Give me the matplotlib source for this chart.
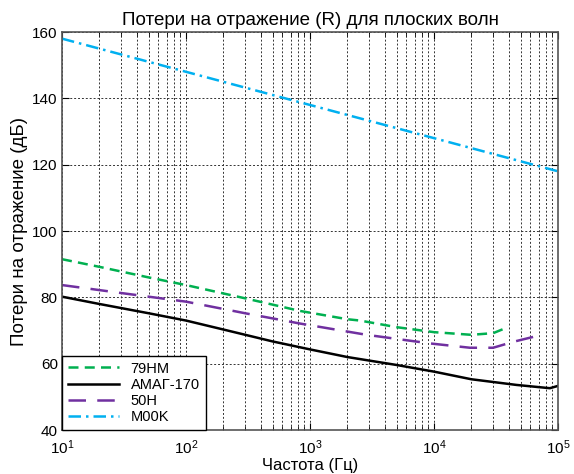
import numpy as np
import matplotlib.pyplot as plt
from matplotlib.ticker import LogLocator, NullFormatter

plt.rcParams['font.family'] = ['Liberation Sans', 'DejaVu Sans']

# --- data ---
f_79hm = [10, 20, 50, 100, 300, 830, 2000, 2530, 5000, 10000, 20000, 30000, 36000]
r_79hm = [91.5, 89.2, 86.0, 83.7, 79.7, 75.9, 73.4, 73.0, 71.0, 69.5, 68.7, 69.2, 70.4]

f_amag = [10, 20, 50, 100, 200, 500, 1000, 2000, 5000, 10000, 20000, 46000, 86000, 100000]
r_amag = [80.2, 78.0, 75.2, 73.0, 70.3, 66.7, 64.3, 62.0, 59.6, 57.6, 55.3, 53.6, 52.6, 53.3]

f_50h = [10, 30, 100, 300, 830, 2860, 9300, 19500, 30000, 43700, 68500]
r_50h = [83.7, 81.3, 78.7, 75.2, 72.1, 68.7, 66.1, 64.8, 64.8, 66.6, 68.4]

f_m00k = [10, 100, 1000, 10000, 100000]
r_m00k = [158, 148, 138, 128, 118]

labels = ['79НМ', 'АМАГ-170', '50Н', 'M00K']

fig = plt.figure(figsize=(5.74, 4.74), dpi=100)
ax = fig.add_axes([62/574, 44/474, 496/574, 398/474])

ax.plot(f_79hm, r_79hm, color='#00b050', lw=1.8, dashes=(4, 2.5), label=labels[0])
ax.plot(f_amag, r_amag, color='black', lw=1.8, label=labels[1])
ax.plot(f_50h, r_50h, color='#7030a0', lw=1.8, dashes=(7, 4.5), label=labels[2])
ax.plot(f_m00k, r_m00k, color='#00b0f0', lw=1.8, dashes=(5, 2, 1, 2), label=labels[3])

ax.set_xscale('log')
ax.set_xlim(10, 1e5)
ax.set_ylim(40, 160)
ax.set_yticks(np.arange(40, 161, 20))
ax.xaxis.set_minor_locator(LogLocator(base=10, subs=np.arange(2, 10)))
ax.xaxis.set_minor_formatter(NullFormatter())

ax.grid(True, which='major', linestyle=(0, (2, 2)), color='#333333', lw=0.7)
ax.grid(True, which='minor', axis='x', linestyle=(0, (2, 2)), color='#333333', lw=0.7)
ax.tick_params(which='both', direction='in', top=True, right=True, labelsize=11)
ax.tick_params(which='major', length=5, pad=3)
ax.tick_params(which='minor', length=3)
ax.tick_params(axis='x', which='major', pad=6)
for s in ax.spines.values():
    s.set_color('#555555')
    s.set_linewidth(1.2)

ax.set_title('Потери на отражение (R) для плоских волн', fontsize=13.5, pad=5)
ax.set_xlabel('Частота (Гц)', fontsize=12, labelpad=1)
ax.set_ylabel('Потери на отражение (дБ)', fontsize=13.5, labelpad=3)

leg = ax.legend(loc='lower left', fontsize=10.5, frameon=True, fancybox=False,
                borderaxespad=0, handlelength=3.5, labelspacing=0.15,
                borderpad=0.4)
leg.get_frame().set_edgecolor('black')
leg.get_frame().set_linewidth(1.0)
leg.get_frame().set_alpha(1)

fig.savefig('out.png', dpi=100)
